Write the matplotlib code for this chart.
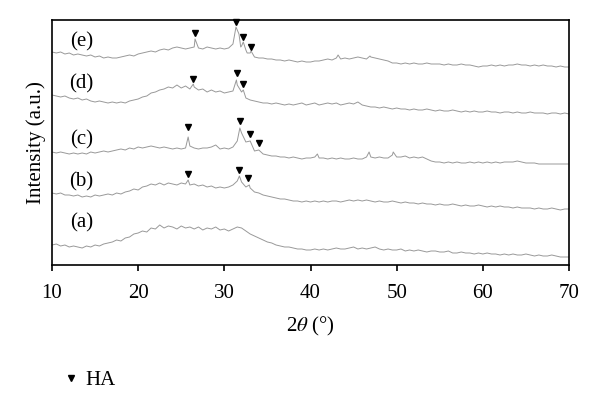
import numpy as np
import matplotlib
matplotlib.use('Agg')
import matplotlib.pyplot as plt
from matplotlib.lines import Line2D

plt.rcParams['font.family'] = ['Liberation Serif', 'DejaVu Serif']
plt.rcParams['mathtext.fontset'] = 'stix'

# 2theta grid (degrees) and intensities (offset, a.u.)
two_theta = np.arange(10.0, 70.5, 0.5)

curve_a = [20, 21, 19, 20, 18, 19, 18, 17, 19, 18,
           20, 19, 21, 22, 23, 25, 24, 27, 28, 31,
           32, 34, 33, 37, 36, 40, 37, 39, 38, 36,
           39, 37, 38, 36, 38, 35, 37, 36, 38, 35,
           36, 34, 36, 38, 37, 34, 31, 29, 27, 25,
           23, 22, 20, 19, 18, 18, 17, 16, 16, 15,
           15, 16, 15, 16, 15, 16, 17, 16, 16, 17,
           18, 16, 17, 16, 17, 18, 16, 15, 16, 15,
           15, 16, 14, 15, 14, 15, 14, 13, 14, 14,
           13, 13, 14, 12, 12, 13, 12, 12, 11, 12,
           11, 12, 11, 11, 10, 11, 10, 11, 10, 10,
           11, 10, 9, 10, 9, 9, 10, 9, 8, 8,
           8]
curve_b = [72, 71, 72, 70, 70, 69, 70, 68, 69, 68,
           70, 69, 70, 71, 70, 72, 71, 73, 74, 76,
           75, 78, 79, 81, 80, 82, 80, 82, 81, 80,
           82, 81, 80, 81, 79, 80, 78, 79, 77, 78,
           77, 78, 80, 84, 83, 78, 77, 73, 72, 70,
           69, 68, 67, 66, 66, 65, 64, 64, 63, 64,
           63, 64, 63, 64, 63, 64, 64, 63, 64, 65,
           64, 65, 64, 65, 64, 63, 64, 63, 63, 64,
           63, 62, 63, 62, 62, 61, 62, 61, 61, 60,
           61, 60, 60, 61, 60, 59, 60, 59, 59, 60,
           59, 58, 59, 58, 59, 58, 58, 57, 58, 57,
           57, 57, 56, 57, 56, 56, 57, 56, 55, 56,
           56]
curve_c = [113, 112, 113, 112, 111, 112, 111, 112, 111, 113,
           112, 113, 114, 113, 114, 115, 116, 115, 117, 116,
           118, 117, 118, 119, 118, 117, 118, 117, 116, 117,
           116, 117, 119, 117, 116, 117, 117, 118, 120, 116,
           117, 116, 118, 124, 132, 123, 124, 114, 115, 111,
           110, 109, 109, 108, 108, 107, 108, 107, 106, 107,
           107, 108, 107, 107, 106, 107, 106, 107, 106, 106,
           107, 106, 106, 108, 108, 107, 108, 107, 107, 110,
           108, 108, 109, 107, 108, 107, 108, 106, 104, 103,
           103, 102, 103, 102, 103, 102, 102, 103, 102, 103,
           102, 103, 102, 103, 102, 103, 103, 103, 104, 103,
           102, 102, 102, 101, 101, 101, 101, 101, 101, 101,
           101]
curve_d = [170, 169, 168, 169, 167, 166, 167, 165, 166, 164,
           163, 164, 163, 162, 163, 162, 163, 162, 164, 165,
           166, 168, 169, 172, 173, 175, 176, 178, 177, 180,
           177, 179, 176, 178, 175, 176, 173, 175, 173, 174,
           172, 173, 174, 180, 173, 167, 165, 164, 163, 162,
           162, 161, 162, 161, 160, 161, 160, 161, 162, 160,
           161, 162, 160, 161, 162, 161, 162, 160, 161, 162,
           161, 163, 160, 159, 158, 158, 157, 158, 157, 156,
           157, 156, 156, 155, 156, 155, 155, 156, 155, 154,
           155, 154, 154, 155, 154, 153, 154, 153, 154, 153,
           153, 154, 153, 153, 152, 153, 153, 152, 153, 152,
           152, 153, 152, 152, 152, 151, 152, 152, 151, 152,
           151]
curve_e = [213, 212, 213, 211, 212, 210, 211, 210, 209, 210,
           208, 209, 207, 208, 207, 207, 208, 209, 210, 209,
           211, 212, 213, 214, 213, 215, 216, 215, 217, 218,
           217, 216, 217, 218, 217, 216, 218, 217, 216, 217,
           216, 217, 221, 235, 219, 215, 212, 208, 207, 207,
           206, 206, 205, 205, 204, 205, 204, 203, 204, 203,
           203, 204, 204, 205, 206, 205, 207, 206, 207, 206,
           207, 208, 207, 206, 208, 207, 206, 205, 204, 202,
           202, 201, 202, 201, 202, 201, 201, 202, 201, 201,
           201, 200, 201, 200, 200, 201, 200, 200, 199, 198,
           199, 199, 200, 199, 200, 199, 200, 200, 201, 200,
           200, 199, 200, 199, 200, 199, 199, 198, 199, 198,
           198]

# sharp reflections between grid points (2theta, intensity)
peaks_a = []
peaks_b = [(25.8, 85), (31.75, 89), (32.9, 80)]
peaks_c = [(25.8, 128), (31.8, 137), (40.8, 111), (46.8, 113), (49.6, 113)]
peaks_d = [(26.4, 181), (31.4, 185), (32.2, 175)]
peaks_e = [(26.6, 226), (31.35, 238), (31.7, 231), (31.9, 218), (32.2, 223),
           (32.65, 212), (33.1, 214), (43.2, 210), (46.9, 209)]

# HA markers (2theta, height)
ha_b = [(25.8, 91), (31.75, 95), (32.8, 87)]
ha_c = [(25.8, 138), (31.8, 144), (33.0, 131), (34.0, 122)]
ha_d = [(26.4, 186), (31.45, 192), (32.2, 181)]
ha_e = [(26.6, 232), (31.35, 243), (32.2, 228), (33.1, 218)]

labels = ['(a)', '(b)', '(c)', '(d)', '(e)']
label_y = [42, 83, 125, 181, 223]

curves = [curve_a, curve_b, curve_c, curve_d, curve_e]
peaks = [peaks_a, peaks_b, peaks_c, peaks_d, peaks_e]
markers = [ha_b, ha_c, ha_d, ha_e]

fig = plt.figure(figsize=(6.0, 3.95), dpi=100)
ax = fig.add_axes([52 / 600, 1 - 265 / 395, 517 / 600, 245 / 395])

for y, pk in zip(curves, peaks):
    x = np.concatenate([two_theta, [p[0] for p in pk]])
    v = np.concatenate([np.array(y, dtype=float), [p[1] for p in pk]])
    order = np.argsort(x)
    ax.plot(x[order], v[order], color='#999999', lw=0.7)

for mk in markers:
    ax.plot([m[0] for m in mk], [m[1] for m in mk], 'v', color='black',
            ms=5, clip_on=False, zorder=5)

for lab, ly in zip(labels, label_y):
    ax.text(13.4, ly, lab, fontsize=15, ha='center', va='center')

ax.set_xlim(10, 70)
ax.set_ylim(0, 245)
ax.set_xticks([10, 20, 30, 40, 50, 60, 70])
ax.set_yticks([])
ax.tick_params(axis='x', direction='out', length=4, width=1.2, labelsize=15, pad=10)
for s in ax.spines.values():
    s.set_linewidth(1.2)
ax.set_xlabel(r'2$\theta$ (°)', fontsize=15, labelpad=8)
ax.set_ylabel('Intensity (a.u.)', fontsize=15, labelpad=4)

handle = Line2D([], [], marker='v', color='black', ls='none', ms=4)
fig.legend(handles=[handle], labels=['HA'], loc='center left',
           bbox_to_anchor=(0.07, 1 - 380 / 395), frameon=False,
           fontsize=15, handletextpad=0.2, handlelength=1.0)

fig.savefig('out.png', dpi=100)
